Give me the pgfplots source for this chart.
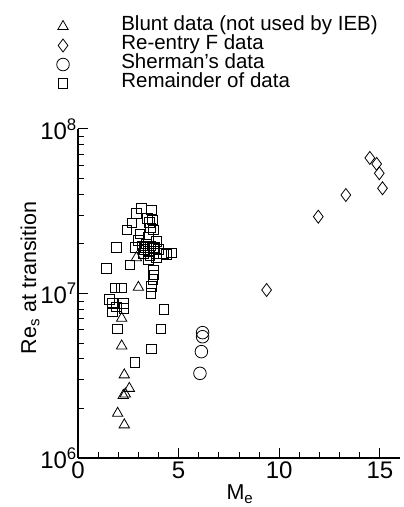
\documentclass[border=0pt]{standalone}
\usepackage{fontspec}
\setmainfont{Liberation Sans}
\usepackage{pgfplots}
\pgfplotsset{compat=1.18}

\begin{document}
\begin{tikzpicture}
\path[use as bounding box] (0,0) rectangle (404pt,507pt);
\begin{axis}[
    at={(78pt,49pt)}, anchor=south west,
    scale only axis, width=322pt, height=329pt,
    ymode=log,
    xmin=0, xmax=16, ymin=1e6, ymax=1e8,
    axis x line=bottom, axis y line=left,
    axis line style={-, line width=1.5pt},
    tick align=inside,
    tick style={black, line width=1pt},
    major tick length=10pt, minor tick length=6pt,
    xtick={0,5,10,15}, minor x tick num=4,
    ytick={1e6,1e7,1e8},
    yticklabels={10\textsuperscript{6},10\textsuperscript{7},10\textsuperscript{8}},
    minor ytick={2e6,3e6,4e6,5e6,6e6,7e6,8e6,9e6,2e7,3e7,4e7,5e7,6e7,7e7,8e7,9e7},
    /pgf/number format/assume math mode=true,
    ticklabel style={font=\fontsize{24}{24}\selectfont},
    yticklabel style={inner sep=1pt},
    xticklabel style={inner sep=2pt, yshift=-2pt},
    xlabel={M\textsubscript{e}},
    ylabel={Re\textsubscript{s} at transition},
    label style={font=\fontsize{21.5}{21.5}\selectfont},
    xlabel style={at={(axis description cs:0.503,0)}, anchor=north, yshift=-27pt, inner sep=0pt},
    ylabel style={at={(axis description cs:-0.149,0.547)}, anchor=center, rotate=0},
    legend cell align=left,
    legend style={at={(axis description cs:-0.076,1.347)}, anchor=north west,
        draw=none, fill=none, font=\fontsize{20.5}{20.5}\selectfont,
        column sep=52pt, row sep=0pt,
        nodes={inner sep=0pt, text height=13pt, text depth=6pt}},
    every axis plot/.append style={only marks, black, mark options={line width=0.8pt, fill=none, solid}},
]
% Blunt data
\addplot[mark=triangle, mark size=6pt] coordinates {
    (2.90,1.65e7) (3.00,1.09e7) (2.17,7.07e6) (2.17,4.8e6) (2.30,3.2e6)
    (2.55,2.65e6) (2.25,2.4e6) (2.35,2.45e6) (1.97,1.87e6) (2.30,1.59e6)
};
\addlegendentry{Blunt data (not used by IEB)}
% Re-entry F
\addplot[mark=diamond, mark size=6.5pt] coordinates {
    (14.50,6.67e7) (14.84,6.13e7) (14.97,5.38e7) (15.13,4.36e7)
    (13.31,3.97e7) (11.94,2.93e7) (9.37,1.05e7)
};
\addlegendentry{Re-entry F data}
% Sherman
\addplot[mark=o, mark size=6.3pt] coordinates {
    (6.19,5.78e6) (6.19,5.46e6) (6.13,4.43e6) (6.06,3.27e6)
};
\addlegendentry{Sherman's data}
% Remainder
\addplot[mark=square, mark size=4.8pt] coordinates {
    (3.16,3.3e7) (3.66,3.22e7) (2.91,3.07e7) (3.44,2.87e7) (3.71,2.8e7)
    (2.67,2.69e7) (2.42,2.43e7) (3.74,2.43e7) (3.08,2.3e7) (3.49,2.2e7)
    (3.91,2.07e7) (1.92,1.91e7) (2.83,1.91e7) (3.33,1.91e7) (3.74,1.88e7)
    (3.24,1.75e7) (3.58,1.71e7) (3.91,1.75e7) (4.24,1.75e7) (4.65,1.77e7)
    (4.40,1.73e7) (3.49,1.6e7) (2.58,1.49e7) (1.42,1.42e7) (3.74,1.39e7)
    (3.78,1.3e7) (3.72,1.22e7) (1.84,1.08e7) (2.17,1.08e7) (3.66,1.1e7)
    (3.63,1.0e7) (1.56,9.2e6) (1.72,8.7e6) (2.25,8.7e6) (1.71,7.75e6)
    (2.29,8.1e6) (1.90,8.3e6) (4.27,8.0e6) (1.95,6.08e6) (4.12,6.08e6)
    (3.66,4.6e6) (2.83,3.82e6)
    (3.40,2.0e7) (3.60,1.95e7) (3.80,1.9e7) (3.50,1.8e7) (3.30,1.85e7)
    (3.90,1.65e7) (3.60,2.5e7) (3.00,2.1e7) (3.55,2.7e7) (3.20,1.95e7)
    (4.00,1.85e7)
};
\addlegendentry{Remainder of data}
\end{axis}
\end{tikzpicture}
\end{document}
